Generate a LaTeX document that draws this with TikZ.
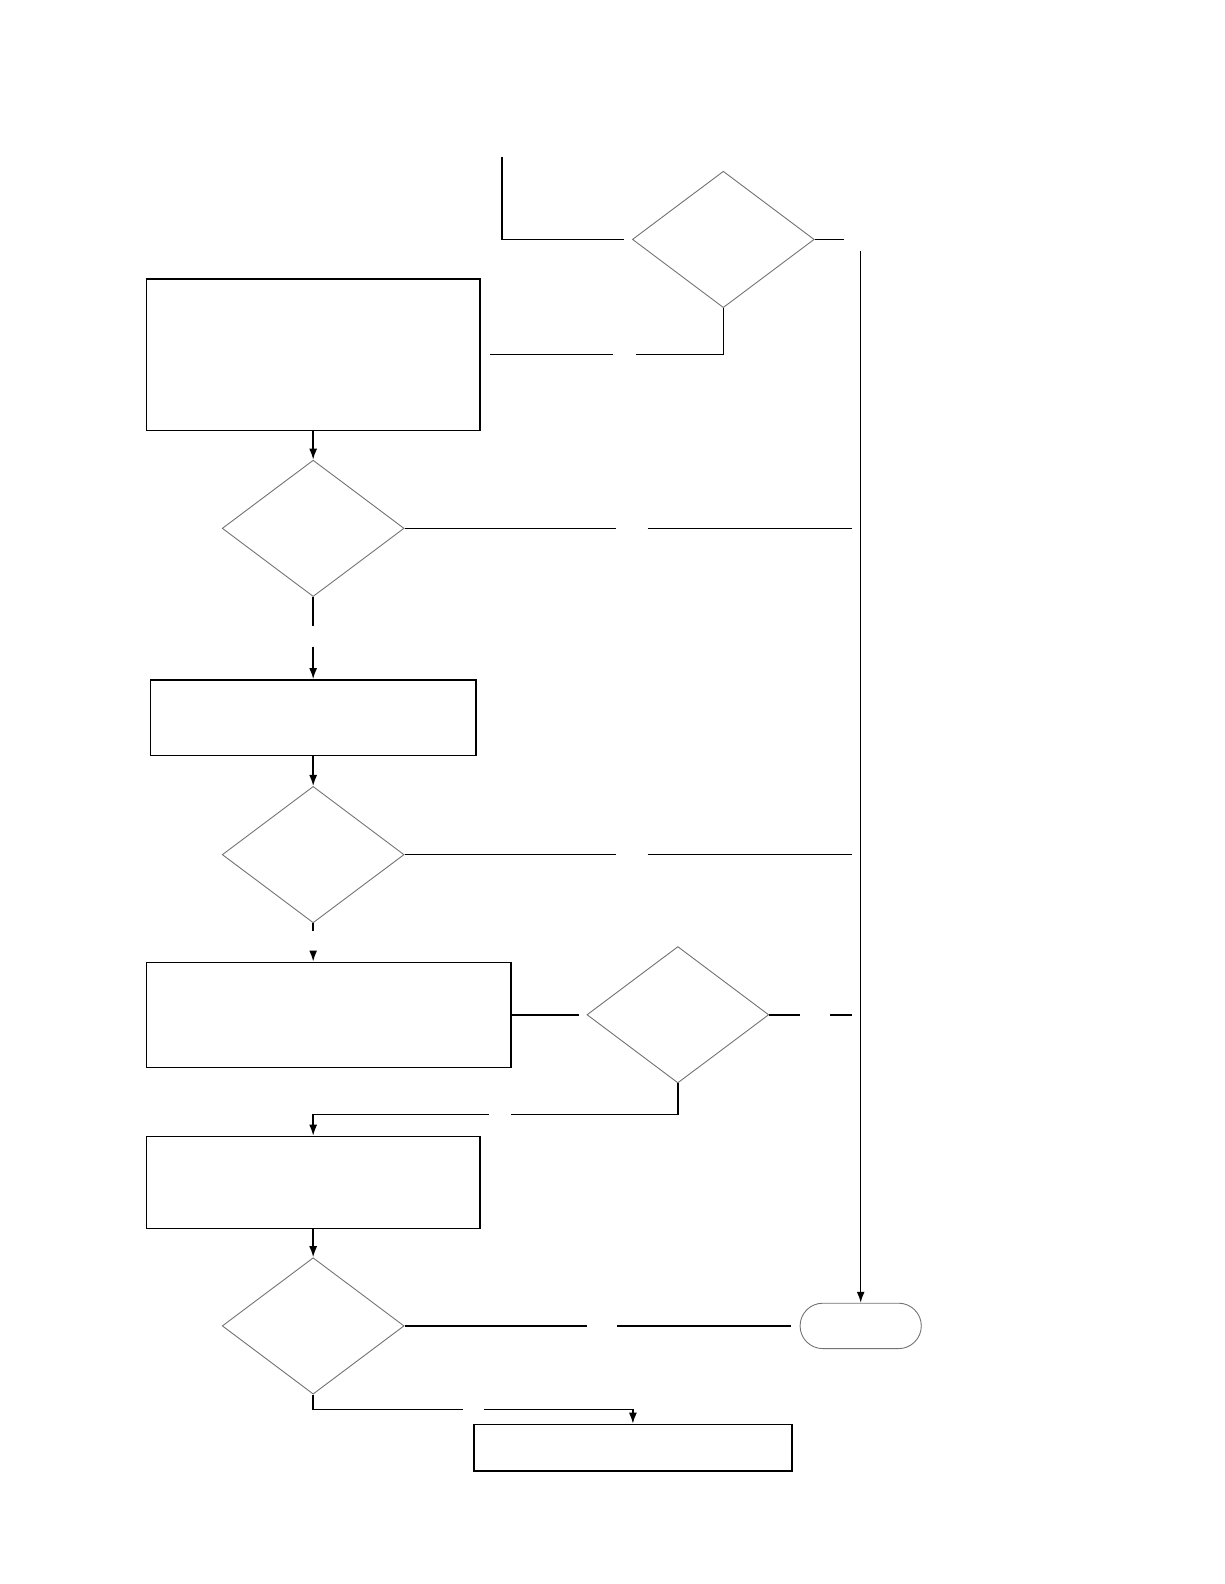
\documentclass[tikz,border=0pt]{standalone}
\usetikzlibrary{shapes.geometric,shapes.misc,arrows.meta}
\begin{document}
\begin{tikzpicture}[x=0.505pt, y=-0.505pt,
    process/.style={rectangle, draw, line width=0.75pt, inner sep=0pt},
    decision/.style={diamond, draw=black!55, line width=0.45pt, inner sep=0pt,
      minimum width=90.9pt, minimum height=68.2pt},
    terminal/.style={rounded rectangle, draw=black!55, line width=0.45pt, inner sep=0pt,
      minimum width=60.6pt, minimum height=22.7pt},
    line width=0.75pt, >={Latex[length=5.5pt, width=4pt]},
  ]
    \useasboundingbox (0,0) rectangle (1212,1568);

    \node[decision] (d1) at (716,237) {};
    \node[process, minimum width=166.7pt, minimum height=75.8pt] (b1) at (310,351) {};
    \node[decision] (d2) at (310,523) {};
    \node[process, minimum width=162.6pt, minimum height=37.9pt] (b2) at (310,710.5) {};
    \node[decision] (d3) at (310,846) {};
    \node[process, minimum width=182.3pt, minimum height=52.5pt] (b3) at (325.5,1004.5) {};
    \node[decision] (d4) at (671,1004.5) {};
    \node[process, minimum width=166.7pt, minimum height=46pt] (b4) at (310,1170.5) {};
    \node[decision] (d5) at (310,1312.5) {};
    \node[terminal] (end) at (852,1312.5) {};
    \node[process, minimum width=159pt, minimum height=23.2pt] (b5) at (626.5,1433) {};

    \coordinate (start) at (497,155);
    \coordinate (bus) at (852,248);

    \draw (start) |- ([xshift=-4pt]d1.west);
    \draw (d1.east) -- ++(29,0);
    \draw[->] (bus) -- (end.north);
    \draw (d1.south) |- (630,351);
    \draw (607,351) -- ([xshift=4.5pt]b1.east);

    \draw[->] (b1) -- (d2);
    \draw (d2.east) -- (610,523);
    \draw (641,523) -- (843,523);
    \draw (d2.south) -- ++(0,29);
    \draw[->] (310,640) -- (b2.north);

    \draw[->] (b2) -- (d3);
    \draw (d3.east) -- (610,846);
    \draw (641,846) -- (843,846);
    \draw (d3.south) -- ++(0,8);
    \draw[->] (310,941) -- (b3.north -| d3.south);

    \draw (b3.east) -- (573,1004.5);
    \draw (d4.east) -- ++(30,0);
    \draw (822,1004.5) -- (843,1004.5);
    \draw (d4.south) |- (506,1103);
    \draw[->] (484,1103) -| (b4.north);

    \draw[->] (b4) -- (d5);
    \draw (d5.east) -- (581,1312.5);
    \draw (611,1312.5) -- ([xshift=-4.5pt]end.west);
    \draw (d5.south) |- (458,1395);
    \draw[->] (479,1395) -| (b5.north);
\end{tikzpicture}
\end{document}
